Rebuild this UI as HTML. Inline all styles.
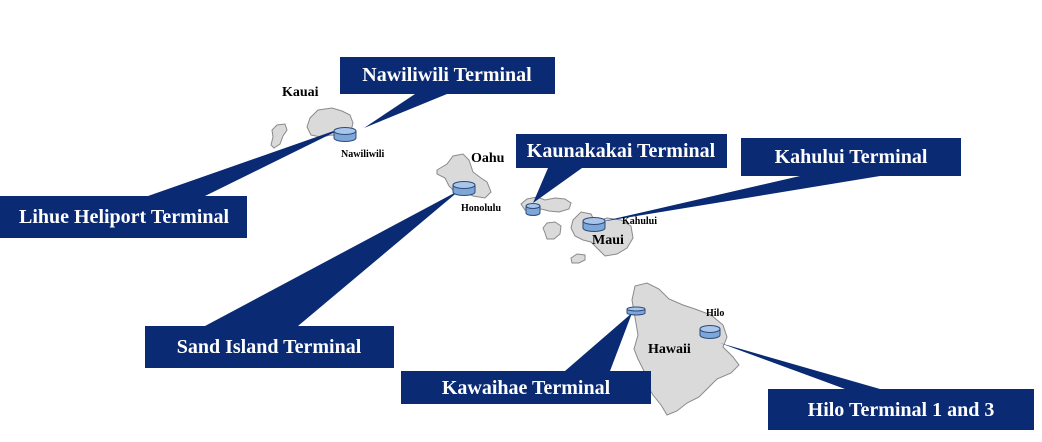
<!DOCTYPE html>
<html><head><meta charset="utf-8"><style>
body{margin:0;background:#fff;}
svg{display:block;font-family:"Liberation Serif",serif;}
.b{fill:#0a2a74}
.t{fill:#fff;font-weight:bold;font-size:20px}
.i{fill:#dadada;stroke:#8a8a8a;stroke-width:1}
.l{font-weight:bold;fill:#000}
</style></head><body>
<svg width="1042" height="442" viewBox="0 0 1042 442">
<!-- islands -->
<path class="i" d="M272,130 l5,-5 8,-1 2,6 -4,6 -3,8 -6,4 -3,-3 2,-8z"/>
<path class="i" d="M310,118 l8,-8 14,-2 10,3 8,4 3,8 -2,8 -8,5 -12,-1 -10,2 -10,-2 -4,-8z"/>
<path class="i" d="M437,170 l10,-6 6,-8 10,-2 6,6 4,12 8,6 6,4 4,10 -6,6 -12,-2 -8,-4 -10,0 -6,-6 -4,-8 -8,-4z"/>
<path class="i" d="M521,204 l6,-5 10,-2 8,3 10,-2 10,1 6,4 -2,6 -10,3 -10,-1 -8,-2 -8,3 -8,-2z"/>
<path class="i" d="M543,228 l4,-5 8,-1 6,4 -1,8 -6,5 -7,0 -2,-6z"/>
<path class="i" d="M573,220 l8,-8 10,2 4,8 12,-4 14,2 10,6 2,12 -6,10 -10,6 -12,2 -6,-6 -8,-8 -8,-2 -8,-4 -4,-8z"/>
<path class="i" d="M571,258 l6,-4 8,1 0,5 -6,3 -7,0z"/>
<path class="i" d="M632,300 l3,-14 12,-3 12,6 10,10 14,6 12,4 16,6 12,10 4,12 -4,10 10,10 6,8 -8,8 -14,6 -10,10 -8,8 -12,6 -10,8 -10,4 -6,-10 -8,-10 -6,-10 -3,-14 -6,-12 -4,-10 4,-14z"/>
<!-- callout wedges -->
<polygon class="b" points="415,94 447,94 364,128"/>
<polygon class="b" points="148,196 205,196 345,127"/>
<polygon class="b" points="548,168 582,168 533,203"/>
<polygon class="b" points="800,176 880,176 600,222"/>
<polygon class="b" points="205,326 298,326 460,190"/>
<polygon class="b" points="565,371 610,371 632,313"/>
<polygon class="b" points="845,389 880,389 720,343"/>
<!-- cylinders -->
<g fill="#7ea6d8" stroke="#2c4b7a" stroke-width="1">
<path d="M334,131 v7 a11,3.5 0 0 0 22,0 v-7"/><ellipse cx="345" cy="131" rx="11" ry="3.5" fill="#a9c5ea"/>
<path d="M453,185 v7 a11,3.5 0 0 0 22,0 v-7"/><ellipse cx="464" cy="185" rx="11" ry="3.5" fill="#a9c5ea"/>
<path d="M526,206 v7 a7,2.5 0 0 0 14,0 v-7"/><ellipse cx="533" cy="206" rx="7" ry="2.5" fill="#a9c5ea"/>
<path d="M583,221 v7 a11,3.5 0 0 0 22,0 v-7"/><ellipse cx="594" cy="221" rx="11" ry="3.5" fill="#a9c5ea"/>
<path d="M627,309 v4 a9,2 0 0 0 18,0 v-4"/><ellipse cx="636" cy="309" rx="9" ry="2" fill="#a9c5ea"/>
<path d="M700,329 v6 a10,3.5 0 0 0 20,0 v-6"/><ellipse cx="710" cy="329" rx="10" ry="3.5" fill="#a9c5ea"/>
</g>
<!-- labels on map -->
<text class="l" x="282" y="96" font-size="14">Kauai</text>
<text class="l" x="341" y="157" font-size="10">Nawiliwili</text>
<text class="l" x="471" y="162" font-size="14">Oahu</text>
<text class="l" x="461" y="211" font-size="10">Honolulu</text>
<text class="l" x="622" y="224" font-size="10">Kahului</text>
<text class="l" x="592" y="244" font-size="14">Maui</text>
<text class="l" x="706" y="316" font-size="10">Hilo</text>
<text class="l" x="648" y="353" font-size="14">Hawaii</text>
<!-- boxes -->
<rect class="b" x="340" y="57" width="215" height="37"/><text class="t" x="447" y="81" text-anchor="middle">Nawiliwili Terminal</text>
<rect class="b" x="0" y="196" width="247" height="42"/><text class="t" x="124" y="223" text-anchor="middle">Lihue Heliport Terminal</text>
<rect class="b" x="516" y="134" width="211" height="34"/><text class="t" x="621" y="157" text-anchor="middle">Kaunakakai Terminal</text>
<rect class="b" x="741" y="138" width="220" height="38"/><text class="t" x="851" y="163" text-anchor="middle">Kahului Terminal</text>
<rect class="b" x="145" y="326" width="249" height="42"/><text class="t" x="269" y="353" text-anchor="middle">Sand Island Terminal</text>
<rect class="b" x="401" y="371" width="250" height="33"/><text class="t" x="526" y="394" text-anchor="middle">Kawaihae Terminal</text>
<rect class="b" x="768" y="389" width="266" height="41"/><text class="t" x="901" y="416" text-anchor="middle">Hilo Terminal 1 and 3</text>
</svg>
</body></html>
